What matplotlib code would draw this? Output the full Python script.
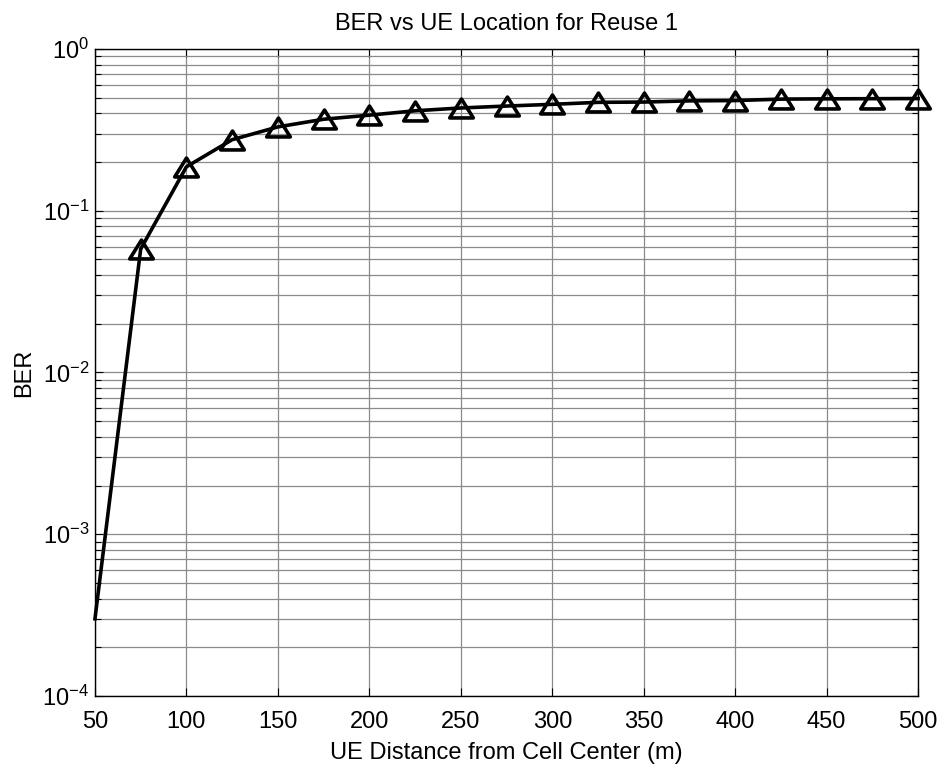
import numpy as np
import matplotlib
matplotlib.use("Agg")
import matplotlib.pyplot as plt
from matplotlib.path import Path
from matplotlib.ticker import LogLocator, LogFormatterMathtext, MultipleLocator, NullFormatter

plt.rcParams['font.family'] = ['Liberation Sans', 'DejaVu Sans']
plt.rcParams['mathtext.fontset'] = 'custom'
plt.rcParams['mathtext.rm'] = 'Liberation Sans'
plt.rcParams['mathtext.default'] = 'regular'
plt.rcParams['axes.unicode_minus'] = False

# UE distance from the cell centre (m) and the simulated bit error rate
distance_m = [50, 75, 100, 125, 150, 175, 200, 225, 250, 275,
              300, 325, 350, 375, 400, 425, 450, 475, 500]
ber = [3.0e-4, 0.058, 0.187, 0.275, 0.330, 0.368, 0.390, 0.415, 0.432, 0.444,
       0.455, 0.468, 0.470, 0.478, 0.480, 0.490, 0.492, 0.493, 0.494]

title_text = "BER vs UE Location for Reuse 1"
xlabel_text = "UE Distance from Cell Center (m)"
ylabel_text = "BER"

fs = 17

fig = plt.figure(figsize=(9.44, 7.67), dpi=100)
ax = fig.add_axes([0.1006, 0.0926, 0.872, 0.8435])

# wide open triangle marker
tri = Path([(0, 0.80), (-1.0, -0.80), (1.0, -0.80), (0, 0.80)],
           [Path.MOVETO, Path.LINETO, Path.LINETO, Path.CLOSEPOLY])

ax.semilogy(distance_m, ber, color='black', linewidth=2.6,
            marker=tri, markersize=17, markerfacecolor='none',
            markeredgecolor='black', markeredgewidth=2.6,
            markevery=list(range(1, len(distance_m))), clip_on=False, zorder=5)

ax.set_xlim(50, 500)
ax.set_ylim(1e-4, 1e0)
ax.xaxis.set_major_locator(MultipleLocator(50))
ax.yaxis.set_major_locator(LogLocator(base=10, numticks=10))
ax.yaxis.set_minor_locator(LogLocator(base=10, subs=np.arange(2, 10), numticks=100))
ax.yaxis.set_major_formatter(LogFormatterMathtext())
ax.yaxis.set_minor_formatter(NullFormatter())

ax.grid(True, which='major', axis='both', color='#8a8a8a', linewidth=0.9)
ax.grid(True, which='minor', axis='y', color='#8a8a8a', linewidth=0.9)
ax.set_axisbelow(True)

ax.tick_params(which='both', direction='in', top=True, right=True,
               labelsize=fs, width=0.8, color='black')
ax.tick_params(which='major', length=6)
ax.tick_params(which='minor', length=4)
ax.tick_params(axis='x', which='major', pad=11)
ax.tick_params(axis='y', which='major', pad=4)

for s in ax.spines.values():
    s.set_linewidth(1.0)
    s.set_color('black')

ax.set_title(title_text, fontsize=fs, pad=14)
ax.set_xlabel(xlabel_text, fontsize=fs, labelpad=6)
ax.set_ylabel(ylabel_text, fontsize=fs, labelpad=5)

fig.savefig("out.png", dpi=100, facecolor='white')
